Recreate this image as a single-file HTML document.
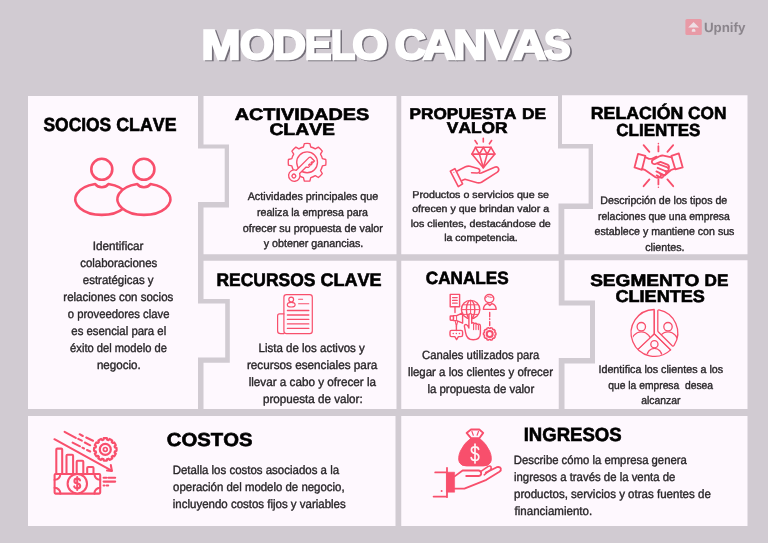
<!DOCTYPE html><html lang="es"><head><meta charset="utf-8"><title>Modelo Canvas</title><style>html,body{margin:0;padding:0;background:#d1cbd2;}svg{display:block;will-change:transform}text{font-family:"Liberation Sans",sans-serif;font-kerning:none;text-rendering:geometricPrecision;}</style></head><body>
<svg width="768" height="543" viewBox="0 0 768 543">
<rect width="768" height="543" fill="#d1cbd2"/>
<g fill="#fef8fe">
<polygon points="28,96 198,96 198,148.5 224.7,148.5 224.7,202 198,202 198,303.5 225.2,303.5 225.2,357.6 198,357.6 198,409 28,409"/>
<polygon points="203.5,96 396.5,96 396.5,254.25 203.5,254.25 203.5,207.5 229,207.5 229,144.6 203.5,144.6"/>
<polygon points="203.5,260.75 396.5,260.75 396.5,409 203.5,409 203.5,362.8 229.8,362.8 229.8,299 203.5,299"/>
<polygon points="401.25,96 558,96 558,148.5 588.6,148.5 588.6,203.5 558.5,203.5 558.5,254.25 401.25,254.25"/>
<polygon points="401.25,260.75 558.75,260.75 558.75,305.5 590,305.5 590,358 558.75,358 558.75,409 401.25,409"/>
<polygon points="562,95.3 747.5,95.3 747.5,254.25 564.3,254.25 564.3,209 593,209 593,144 562,144"/>
<polygon points="564.5,260.25 747.5,260.25 747.5,409 564.5,409 564.5,363.5 595,363.5 595,300.5 564.5,300.5"/>
<polygon points="28,416 395.5,416 395.5,526 28,526"/>
<polygon points="401.25,416 747.5,416 747.5,526 401.25,526"/>
</g>
<g font-size="41.5" font-weight="bold" fill="#75707a" stroke="#75707a" stroke-width="2.3" stroke-linejoin="miter"><text y="60.05"><tspan x="203.21" textLength="39.08" lengthAdjust="spacingAndGlyphs">M</tspan><tspan x="241.67" textLength="33.81" lengthAdjust="spacingAndGlyphs">O</tspan><tspan x="273.92" textLength="33.80" lengthAdjust="spacingAndGlyphs">D</tspan><tspan x="306.57" textLength="26.75" lengthAdjust="spacingAndGlyphs">E</tspan><tspan x="332.59" textLength="24.28" lengthAdjust="spacingAndGlyphs">L</tspan><tspan x="353.88" textLength="35.38" lengthAdjust="spacingAndGlyphs">O</tspan></text><text y="60.05"><tspan x="396.38" textLength="31.15" lengthAdjust="spacingAndGlyphs">C</tspan><tspan x="424.42" textLength="32.83" lengthAdjust="spacingAndGlyphs">A</tspan><tspan x="455.25" textLength="32.43" lengthAdjust="spacingAndGlyphs">N</tspan><tspan x="486.62" textLength="31.96" lengthAdjust="spacingAndGlyphs">V</tspan><tspan x="514.28" textLength="33.80" lengthAdjust="spacingAndGlyphs">A</tspan><tspan x="545.70" textLength="26.61" lengthAdjust="spacingAndGlyphs">S</tspan></text></g>
<g font-size="41.5" font-weight="bold" fill="#ffffff" stroke="#ffffff" stroke-width="2.3" stroke-linejoin="miter"><text y="58.65"><tspan x="201.51" textLength="39.08" lengthAdjust="spacingAndGlyphs">M</tspan><tspan x="239.97" textLength="33.81" lengthAdjust="spacingAndGlyphs">O</tspan><tspan x="272.22" textLength="33.80" lengthAdjust="spacingAndGlyphs">D</tspan><tspan x="304.87" textLength="26.75" lengthAdjust="spacingAndGlyphs">E</tspan><tspan x="330.89" textLength="24.28" lengthAdjust="spacingAndGlyphs">L</tspan><tspan x="352.18" textLength="35.38" lengthAdjust="spacingAndGlyphs">O</tspan></text><text y="58.65"><tspan x="394.68" textLength="31.15" lengthAdjust="spacingAndGlyphs">C</tspan><tspan x="422.72" textLength="32.83" lengthAdjust="spacingAndGlyphs">A</tspan><tspan x="453.55" textLength="32.43" lengthAdjust="spacingAndGlyphs">N</tspan><tspan x="484.92" textLength="31.96" lengthAdjust="spacingAndGlyphs">V</tspan><tspan x="512.58" textLength="33.80" lengthAdjust="spacingAndGlyphs">A</tspan><tspan x="544.00" textLength="26.61" lengthAdjust="spacingAndGlyphs">S</tspan></text></g>
<g font-weight="bold" fill="#000" stroke="#000" stroke-width="0.6">
<text><tspan font-size="18.9" x="43.50" y="130.80" textLength="67.68" lengthAdjust="spacingAndGlyphs">SOCIOS</tspan> <tspan font-size="18.9" x="116.27" y="130.80" textLength="60.22" lengthAdjust="spacingAndGlyphs">CLAVE</tspan></text>
<text><tspan font-size="16.6" x="234.71" y="120.00" textLength="134.52" lengthAdjust="spacingAndGlyphs">ACTIVIDADES</tspan> <tspan font-size="16.6" x="269.41" y="135.40" textLength="65.55" lengthAdjust="spacingAndGlyphs">CLAVE</tspan></text>
<text><tspan font-size="18.2" x="216.53" y="285.95" textLength="98.85" lengthAdjust="spacingAndGlyphs">RECURSOS</tspan> <tspan font-size="18.2" x="320.46" y="285.95" textLength="61.20" lengthAdjust="spacingAndGlyphs">CLAVE</tspan></text>
<text><tspan font-size="15.6" x="409.55" y="118.50" textLength="106.85" lengthAdjust="spacingAndGlyphs">PROPUESTA</tspan> <tspan font-size="15.6" x="522.04" y="118.50" textLength="24.09" lengthAdjust="spacingAndGlyphs">DE</tspan> <tspan font-size="15.6" x="446.83" y="132.90" textLength="60.72" lengthAdjust="spacingAndGlyphs">VALOR</tspan></text>
<text><tspan font-size="17.7" x="425.75" y="283.50" textLength="82.87" lengthAdjust="spacingAndGlyphs">CANALES</tspan></text>
<text><tspan font-size="17.5" x="590.76" y="119.20" textLength="92.63" lengthAdjust="spacingAndGlyphs">RELACIÓN</tspan> <tspan font-size="17.5" x="687.99" y="119.20" textLength="38.37" lengthAdjust="spacingAndGlyphs">CON</tspan> <tspan font-size="17.5" x="616.25" y="135.60" textLength="84.11" lengthAdjust="spacingAndGlyphs">CLIENTES</tspan></text>
<text><tspan font-size="16.6" x="590.15" y="285.70" textLength="109.10" lengthAdjust="spacingAndGlyphs">SEGMENTO</tspan> <tspan font-size="16.6" x="704.55" y="285.70" textLength="23.82" lengthAdjust="spacingAndGlyphs">DE</tspan> <tspan font-size="17.1" x="615.46" y="301.80" textLength="89.45" lengthAdjust="spacingAndGlyphs">CLIENTES</tspan></text>
<text><tspan font-size="18.75" x="166.87" y="445.50" textLength="85.62" lengthAdjust="spacingAndGlyphs">COSTOS</tspan></text>
<text><tspan font-size="19" x="523.71" y="440.50" textLength="97.97" lengthAdjust="spacingAndGlyphs">INGRESOS</tspan></text>
</g>
<g fill="#2a272a" stroke="#2a272a" stroke-width="0.38">
<text font-size="12" transform="translate(92.71 250.00) scale(0.9764 1)">Identificar</text>
<text font-size="12" transform="translate(80.20 267.00) scale(0.9554 1)">colaboraciones</text>
<text font-size="12" transform="translate(82.80 284.00) scale(0.9554 1)">estratégicas y</text>
<text font-size="12" transform="translate(63.33 301.20) scale(0.9588 1)">relaciones con socios</text>
<text font-size="12" transform="translate(67.82 318.30) scale(0.9401 1)">o proveedores clave</text>
<text font-size="12" transform="translate(71.31 335.30) scale(0.9481 1)">es esencial para el</text>
<text font-size="12" transform="translate(70.12 352.40) scale(0.9301 1)">éxito del modelo de</text>
<text font-size="12" transform="translate(96.92 369.40) scale(0.9665 1)">negocio.</text>
<text font-size="11.05" transform="translate(247.67 200.25) scale(0.9755 1)">Actividades principales que</text>
<text font-size="11.05" transform="translate(256.98 216.00) scale(0.9620 1)">realiza la empresa para</text>
<text font-size="11.05" transform="translate(242.74 231.50) scale(0.9758 1)">ofrecer su propuesta de valor</text>
<text font-size="11.05" transform="translate(263.66 247.00) scale(0.9711 1)">y obtener ganancias.</text>
<text font-size="12" transform="translate(258.49 351.65) scale(0.9604 1)">Lista de los activos y</text>
<text font-size="12" transform="translate(246.91 368.65) scale(0.9775 1)">recursos esenciales para</text>
<text font-size="12" transform="translate(248.65 385.90) scale(0.9746 1)">llevar a cabo y ofrecer la</text>
<text font-size="12" transform="translate(262.94 402.90) scale(0.9703 1)">propuesta de valor:</text>
<text font-size="10" transform="translate(412.31 198.05) scale(1.0695 1)">Productos o servicios que se</text>
<text font-size="10" transform="translate(412.25 212.45) scale(1.0563 1)">ofrecen y que brindan valor a</text>
<text font-size="10" transform="translate(410.72 226.95) scale(1.0676 1)">los clientes, destacándose de</text>
<text font-size="10" transform="translate(444.23 241.30) scale(1.0499 1)">la competencia.</text>
<text font-size="12" transform="translate(422.12 359.00) scale(0.9395 1)">Canales utilizados para</text>
<text font-size="12" transform="translate(407.92 376.00) scale(0.9541 1)">llegar a los clientes y ofrecer</text>
<text font-size="12" transform="translate(427.42 392.75) scale(0.9532 1)">la propuesta de valor</text>
<text font-size="11.05" transform="translate(600.32 203.75) scale(0.9614 1)">Descripción de los tipos de</text>
<text font-size="11.05" transform="translate(598.00 219.50) scale(0.9453 1)">relaciones que una empresa</text>
<text font-size="11.05" transform="translate(594.49 235.00) scale(0.9614 1)">establece y mantiene con sus</text>
<text font-size="11.05" transform="translate(645.23 250.75) scale(0.9696 1)">clientes.</text>
<text font-size="11.05" transform="translate(598.45 373.00) scale(0.9718 1)">Identifica los clientes a los</text>
<text font-size="11.05" transform="translate(608.26 388.75) scale(0.9323 1)">que la empresa  desea</text>
<text font-size="11.05" transform="translate(641.25 404.25) scale(0.9393 1)">alcanzar</text>
<text font-size="12" transform="translate(172.65 474.47) scale(0.9559 1)">Detalla los costos asociados a la</text>
<text font-size="12" transform="translate(173.11 491.47) scale(0.9520 1)">operación del modelo de negocio,</text>
<text font-size="12" transform="translate(172.82 508.22) scale(0.9566 1)">incluyendo costos fijos y variables</text>
<text font-size="12" transform="translate(513.81 464.47) scale(0.9432 1)">Describe cómo la empresa genera</text>
<text font-size="12" transform="translate(513.98 481.47) scale(0.9485 1)">ingresos a través de la venta de</text>
<text font-size="12" transform="translate(514.00 498.22) scale(0.9612 1)">productos, servicios y otras fuentes de</text>
<text font-size="12" transform="translate(514.58 515.22) scale(0.9606 1)">financiamiento.</text>
</g>
<g fill="none" stroke="#f84f6c" stroke-width="2.6" stroke-linecap="round" stroke-linejoin="round"><path d="M95.20 183.99 A26.50 15.70 0 1 0 108.40 183.99 A8.20 8.20 0 0 1 95.20 183.99 Z" fill="#fef8fe"/><circle cx="101.80" cy="169.30" r="10.50"/><path d="M137.30 183.99 A26.50 15.70 0 1 0 150.50 183.99 A8.20 8.20 0 0 1 137.30 183.99 Z" fill="#fef8fe"/><circle cx="143.90" cy="169.30" r="10.50"/></g>
<g fill="none" stroke="#f84f6c" stroke-width="1.35" stroke-linecap="round" stroke-linejoin="round"><path d="M303.43 147.03L304.31 143.61A18.90 18.90 0 0 1 309.89 143.61L310.77 147.03A15.70 15.70 0 0 1 315.30 148.91L318.34 147.11A18.90 18.90 0 0 1 322.29 151.06L320.49 154.10A15.70 15.70 0 0 1 322.37 158.63L325.79 159.51A18.90 18.90 0 0 1 325.79 165.09L322.37 165.97A15.70 15.70 0 0 1 320.49 170.50L322.29 173.54A18.90 18.90 0 0 1 318.34 177.49L315.30 175.69A15.70 15.70 0 0 1 310.77 177.57L309.89 180.99A18.90 18.90 0 0 1 304.31 180.99L303.43 177.57A15.70 15.70 0 0 1 298.90 175.69L295.86 177.49A18.90 18.90 0 0 1 291.91 173.54L293.71 170.50A15.70 15.70 0 0 1 291.83 165.97L288.41 165.09A18.90 18.90 0 0 1 288.41 159.51L291.83 158.63A15.70 15.70 0 0 1 293.71 154.10L291.91 151.06A18.90 18.90 0 0 1 295.86 147.11L298.90 148.91A15.70 15.70 0 0 1 303.43 147.03 Z"/><circle cx="307.10" cy="162.30" r="10.4"/><g transform="translate(294.30 175.60) rotate(-45)"><path d="M5.19 -2.35L23.40 -2.35L24.60 -1.35L24.60 3.95L22.40 3.95L22.40 2.75L21.00 2.75L21.00 4.15L19.20 4.15L19.20 2.75L17.60 2.75L17.60 4.15L15.80 4.15L14.40 2.35L5.19 2.35A5.70 5.70 0 1 1 5.19 -2.35 Z" fill="#fef8fe"/><circle cx="-0.6" cy="0" r="1.9"/></g></g>
<g fill="none" stroke="#f84f6c" stroke-width="1.2" stroke-linecap="round" stroke-linejoin="round"><path d="M283.9 313.9 H279.6 Q277.6 313.9 277.6 315.9 V331 Q277.6 333.6 280.6 333.6 H283.9"/><rect x="283.9" y="294.6" width="28.4" height="39" rx="2.6"/><circle cx="291.2" cy="299.6" r="2.4"/><ellipse cx="291.2" cy="304.7" rx="3.9" ry="2.3"/><path d="M298.6 299.3H302.6M298.6 303.7H308.8" stroke-width="1.1"/><path d="M287.4 310.5H308.8M287.4 315H308.8M287.4 319.4H308.8M287.4 323.9H308.8M287.4 328.4H308.8" stroke-width="1.3"/></g>
<g fill="none" stroke="#f84f6c" stroke-width="1.6" stroke-linecap="round" stroke-linejoin="round"><path d="M483.3 138.2V142M475 140.5L477.2 143.8M491.6 140.5L489.4 143.8"/><path d="M475.5 147.3H491L494.9 154.1L483.3 167.8L471.9 154.1Z"/><path d="M471.9 154.1H494.9"/><path d="M475.5 147.3L479.4 154.1L483.3 147.3L487.2 154.1L491 147.3"/><path d="M479.4 154.1L483.3 167.8L487.2 154.1"/><path d="M450.3 171.2L454.9 168.6L462.6 183.9L458.3 186.6Z"/><circle cx="453.9" cy="172.6" r="0.5" fill="#f84f6c" stroke="none"/><g transform="translate(0 0.8)"><path d="M457.2 170.2 L465.5 166 Q467.5 165 470 165.5 L477.8 167.6 Q480.2 168.4 479.7 170.4 Q479.2 172.4 476.8 172.2 L471.6 172"/><path d="M479.6 172.5 Q481 172.6 483 171.5 L494.6 166.4 Q497.4 165.4 498.5 167.6 Q499.5 169.9 497 171.6 L481.5 181.4 Q479.6 182.4 477.2 182 L465 178.4 L462 179.6"/></g></g>
<g fill="none" stroke="#f84f6c" stroke-width="1.8" stroke-linecap="round" stroke-linejoin="round"><path d="M638 153.9L645.4 155.9L641.9 169.8L634.5 167.4Z"/><path d="M671.3 155.9L678.8 153.4L682.7 167.4L675.3 169.3Z"/><path d="M645.2 157.2 L649 158.8 Q651 159.3 653 158.2 L656.5 156.6"/><path d="M671.6 157.4 L663.5 155.6 Q661.5 155.3 659.5 156.2 L653.2 159.6 Q651.2 161 652.2 163 Q653.4 164.6 655.6 163.8 L660.5 161.8 L667.5 164.6 Q669.8 166 668.6 168.4"/><path d="M675 168.6 L671 170 L664.5 175.5"/><path d="M642 168.8 L645.4 170.2 L655.5 177.2 Q658 178.6 660.2 177 Q661.8 175.4 660.4 174"/><path d="M658 164 L667.4 167.4 Q669.4 168.6 668.4 170.3 Q667.3 171.8 665.3 171 L657.6 167.8"/><path d="M665.3 171 Q667 172.4 665.9 174 Q664.6 175.4 662.8 174.6 L656.4 171.4"/><path d="M662.8 174.6 Q664 176 662.8 177.2 Q661.6 178.2 660 177.4 L656.6 175.4"/><path d="M658.4 146.2V151.4M643.6 145.2L649.4 151.8M673.2 145.2L667.4 151.8M658.4 179.4V184.4M649.4 179.4L643.6 186.2M667.4 179.4L673.2 186.2"/><path d="M658.4 143.6V143.7M658.4 187.2V187.3" stroke-width="1.5"/></g>
<g fill="none" stroke="#f84f6c" stroke-width="1.3" stroke-linecap="round" stroke-linejoin="round"><defs><clipPath id="cpL"><path d="M654 309 V333.6 L638.6 348.6 A23.4 23.4 0 0 1 654 309.5Z"/></clipPath><clipPath id="cpR"><path d="M657.9 309.6 A23.4 23.4 0 0 1 673.2 346.6 L657.9 331.6Z"/></clipPath><clipPath id="cpB"><path d="M654.4 333.9 L670.6 349.8 A23.4 23.4 0 0 1 638.6 348.6 Z"/></clipPath></defs><path d="M654.20 309.50 A23.40 23.40 0 1 0 670.60 349.90 L654.3 333.9 Z"/><path d="M654.3 333.9 L638.4 348.9"/><g clip-path="url(#cpL)"><circle cx="641.3" cy="326.7" r="4.2"/><ellipse cx="641.3" cy="344" rx="10.5" ry="12.2" fill="#fef8fe"/></g><g clip-path="url(#cpR)"><circle cx="668" cy="326.7" r="4.2"/><ellipse cx="668" cy="344" rx="10.5" ry="12.2" fill="#fef8fe"/></g><g clip-path="url(#cpB)"><circle cx="654.4" cy="344.2" r="3.6"/><ellipse cx="654.4" cy="356.5" rx="7.6" ry="8.2"/></g><path d="M654.3 311 V333.9 L638.4 348.9M654.3 333.9L670.6 349.9"/><path d="M657.8 311 Q657.8 309.8 658.90 309.90 A23.40 23.40 0 0 1 674.20 345.20 Q673.2 346.6 672.2 345.7 L658.4 332 Q657.8 331.4 657.8 330.4 Z"/></g>
<g fill="none" stroke="#f84f6c" stroke-width="1.4" stroke-linecap="round" stroke-linejoin="round"><rect x="450.2" y="294.4" width="9.4" height="12.4"/><path d="M452.6 297.6H457.2M452.6 300.4H457.2M452.6 303.2H457.2" stroke-width="1.3"/><path d="M455 306.8V312.6"/><circle cx="470.6" cy="309.6" r="9.2"/><ellipse cx="470.6" cy="309.6" rx="4.2" ry="9.2"/><path d="M470.6 300.4V318.8M461.4 309.6H479.8M463 304.8H478.2M463 314.4H478.2" stroke-width="1"/><path d="M453.4 315.6 H456.6 L462.6 313 V323.2 L456.6 320.6 H453.4 Z" fill="#fef8fe"/><rect x="450.2" y="316" width="3.2" height="4.2" rx="0.6" fill="#fef8fe"/><path d="M456.6 315.6V320.6" stroke-width="1"/><path d="M455.2 321 L456.4 326.4 L457.6 321.4" stroke-width="1.1"/><path d="M456.4 326.6V330.6"/><path d="M451.6 330.4 H461 Q462.6 330.4 462.6 332 V335 Q462.6 336.6 461 336.6 H458.4 L456.6 339.6 L454.8 336.6 H451.6 Q450 336.6 450 335 V332 Q450 330.4 451.6 330.4Z"/><path d="M453.2 333.5h0.1M456.3 333.5h0.1M459.4 333.5h0.1" stroke-width="1.4"/><path d="M468.9 328 V315.2 Q468.9 313.6 470.3 313.6 Q471.7 313.6 471.7 315.2 V323.2 Q473.2 322.2 474.4 323.6 Q475.9 322.8 477.2 324.2 Q480.4 323.6 480.4 326.4 V333 Q480.4 339.8 473.2 339.8 Q466.6 339.8 465.6 332.6 L464.4 326.4 Q464.4 324.2 466.4 324.6 Q467.8 325 468.9 328Z" fill="#fef8fe"/><path d="M473.6 324V329.6M476 324.4V329.6M478.4 325V329.6" stroke-width="1.1"/><ellipse cx="489.3" cy="298.6" rx="4.5" ry="4.1"/><path d="M485.6 297.6 Q487.6 295.6 489.6 297 Q491.4 298 493.2 296.8" stroke-width="1"/><path d="M483.4 309.4 Q483.6 304.6 487.6 303.6 L489.8 305.6 L492 303.6 Q496 304.6 496.2 309.4 Z"/><path d="M489.7 312.4V316.8M489.7 318.8V319.6M489.7 321.6V325.6"/><path d="M495.08 332.76L495.92 332.91A6.30 6.30 0 0 1 495.92 334.89L495.08 335.04A5.50 5.50 0 0 1 494.72 336.14L495.31 336.76A6.30 6.30 0 0 1 494.15 338.35L493.38 337.99A5.50 5.50 0 0 1 492.45 338.66L492.56 339.51A6.30 6.30 0 0 1 490.69 340.12L490.27 339.37A5.50 5.50 0 0 1 489.13 339.37L488.71 340.12A6.30 6.30 0 0 1 486.84 339.51L486.95 338.66A5.50 5.50 0 0 1 486.02 337.99L485.25 338.35A6.30 6.30 0 0 1 484.09 336.76L484.68 336.14A5.50 5.50 0 0 1 484.32 335.04L483.48 334.89A6.30 6.30 0 0 1 483.48 332.91L484.32 332.76A5.50 5.50 0 0 1 484.68 331.66L484.09 331.04A6.30 6.30 0 0 1 485.25 329.45L486.02 329.81A5.50 5.50 0 0 1 486.95 329.14L486.84 328.29A6.30 6.30 0 0 1 488.71 327.68L489.13 328.43A5.50 5.50 0 0 1 490.27 328.43L490.69 327.68A6.30 6.30 0 0 1 492.56 328.29L492.45 329.14A5.50 5.50 0 0 1 493.38 329.81L494.15 329.45A6.30 6.30 0 0 1 495.31 331.04L494.72 331.66A5.50 5.50 0 0 1 495.08 332.76 Z"/><circle cx="489.7" cy="333.9" r="3" stroke-width="2"/></g>
<g fill="none" stroke="#f84f6c" stroke-width="2.05" stroke-linecap="round" stroke-linejoin="round"><path d="M56.3 474 V449.6 Q56.3 448.6 57.3 448.6 H61.2 Q62.2 448.6 62.2 449.6 V474"/><path d="M66.5 474 V455.7 Q66.5 454.7 67.5 454.7 H72.1 Q73.1 454.7 73.1 455.7 V474"/><path d="M76.7 474 V461.8 Q76.7 460.8 77.7 460.8 H82.3 Q83.3 460.8 83.3 461.8 V474"/><path d="M87.2 474 V468.0 Q87.2 467.0 88.2 467.0 H92.5 Q93.5 467.0 93.5 468.0 V474"/><rect x="54.6" y="474" width="45.6" height="19.6" rx="1" fill="#fef8fe"/><path d="M54.6 479.8 Q60 479.4 60.4 474M100.2 479.8 Q94.8 479.4 94.4 474M54.6 487.8 Q60 488.2 60.4 493.6M100.2 487.8 Q94.8 488.2 94.4 493.6"/><circle cx="77.3" cy="483.7" r="9.7" fill="#fef8fe"/><path d="M80 480.4 Q79.6 478.6 77.2 478.6 Q74.4 478.6 74.4 481 Q74.4 483.2 77.2 483.4 Q80.2 483.6 80.2 486 Q80.2 488.4 77.2 488.4 Q74.6 488.4 74.2 486.4M77.2 477V490"/><path d="M54.4 439.2 L111.6 470.6"/><path d="M110.8 465 L111.9 471 L107 470.6"/><path d="M64.6 431.8 L75.8 437.9"/><path d="M79.6 434.2L82.8 436M86.2 437.5L93 440.7M78.2 438.9L81.8 440.7M84.8 442.5L90.2 445.3M72.6 442.6L80 446.3M82.4 447.7L84 448.5M87 450L90.2 451.5"/><path d="M114.92 447.53L116.49 447.83A11.30 11.30 0 0 1 116.49 450.97L114.92 451.27A9.80 9.80 0 0 1 114.57 452.59L115.78 453.63A11.30 11.30 0 0 1 114.20 456.36L112.70 455.83A9.80 9.80 0 0 1 111.73 456.80L112.26 458.30A11.30 11.30 0 0 1 109.53 459.88L108.49 458.67A9.80 9.80 0 0 1 107.17 459.02L106.87 460.59A11.30 11.30 0 0 1 103.73 460.59L103.43 459.02A9.80 9.80 0 0 1 102.11 458.67L101.07 459.88A11.30 11.30 0 0 1 98.34 458.30L98.87 456.80A9.80 9.80 0 0 1 97.90 455.83L96.40 456.36A11.30 11.30 0 0 1 94.82 453.63L96.03 452.59A9.80 9.80 0 0 1 95.68 451.27L94.11 450.97A11.30 11.30 0 0 1 94.11 447.83L95.68 447.53A9.80 9.80 0 0 1 96.03 446.21L94.82 445.17A11.30 11.30 0 0 1 96.40 442.44L97.90 442.97A9.80 9.80 0 0 1 98.87 442.00L98.34 440.50A11.30 11.30 0 0 1 101.07 438.92L102.11 440.13A9.80 9.80 0 0 1 103.43 439.78L103.73 438.21A11.30 11.30 0 0 1 106.87 438.21L107.17 439.78A9.80 9.80 0 0 1 108.49 440.13L109.53 438.92A11.30 11.30 0 0 1 112.26 440.50L111.73 442.00A9.80 9.80 0 0 1 112.70 442.97L114.20 442.44A11.30 11.30 0 0 1 115.78 445.17L114.57 446.21A9.80 9.80 0 0 1 114.92 447.53 Z" stroke-width="2.2"/><circle cx="105.3" cy="449.4" r="5.5" stroke-width="2.2"/><circle cx="105.3" cy="449.4" r="1.9" stroke-width="1.7"/><path d="M103.6 477.8H106.4M108.4 477.8H115.2M103.6 481.6H115.2M103.6 485.4H104.4M106.6 485.4H108.2"/></g>
<g fill="none" stroke="#f84f6c" stroke-width="1.8" stroke-linecap="round" stroke-linejoin="round"><path d="M470.7 438.4 L479.6 438.4 Q486 443 489.6 451 Q492.6 458 490.6 462.4 Q488.8 466 483.5 466 H466.5 Q461.2 466 459.4 462.4 Q457.4 458 460.4 451 Q464 443 470.7 438.4 Z" fill="#f84f6c" stroke-width="0.8"/><path d="M471 429.5 H479.3 L483.2 432.9 L479.3 438.2 H471 L466.6 432.9 Z" fill="#fef8fe" stroke-width="1.9"/><path d="M471.9 431.4 L473.3 435.2M478.5 431.4 L477.1 435.2" stroke-width="1.2"/><path d="M478.6 449.4 Q478.2 446.8 475 446.8 Q471.4 446.8 471.4 450 Q471.4 452.8 475 453.3 Q478.8 453.8 478.8 457 Q478.8 460.4 475 460.4 Q471.6 460.4 471.2 457.6M475 444V463" stroke="#fff4f6" stroke-width="1.7"/><rect x="446.8" y="472.2" width="7.8" height="20" fill="#f84f6c" stroke-width="0.6"/><path d="M435.2 472.4H446.8M447 467.8V497.2M433.6 496.6H447"/><circle cx="441.6" cy="491.1" r="1.0" fill="#f84f6c" stroke="none"/><path d="M454.6 476.4 L462.6 470.5 H478.8 Q481.2 471 481.2 473.2 Q481.2 475.6 478.8 476 H466.2"/><path d="M481 471.4 L487.8 466.6 Q490 465.4 491 466.8 Q491.8 468.4 490.2 470 L484.2 474.8" stroke-width="1.6"/><path d="M485.8 472.6 L496.8 467.2 Q499.8 466.4 500.8 468.4 Q501.4 470.4 499.4 471.8 L486.4 479.8 L464.4 488.6 H454.6"/></g>
<g><rect x="685.4" y="18.9" width="16.4" height="16.2" rx="1.6" fill="#e89aa6"/><path d="M693.6 21.9 L699 27.4 H688.2 Z" fill="#eedfe5"/><path d="M691.8 31.8 V30.6 A1.8 1.8 0 0 1 695.4 30.6 V31.8 Z" fill="#eedfe5"/><text font-size="13.4" font-weight="bold" fill="#8b858c" transform="translate(703.90 32.4) scale(0.9973 1)">Upnify</text></g>
</svg></body></html>
